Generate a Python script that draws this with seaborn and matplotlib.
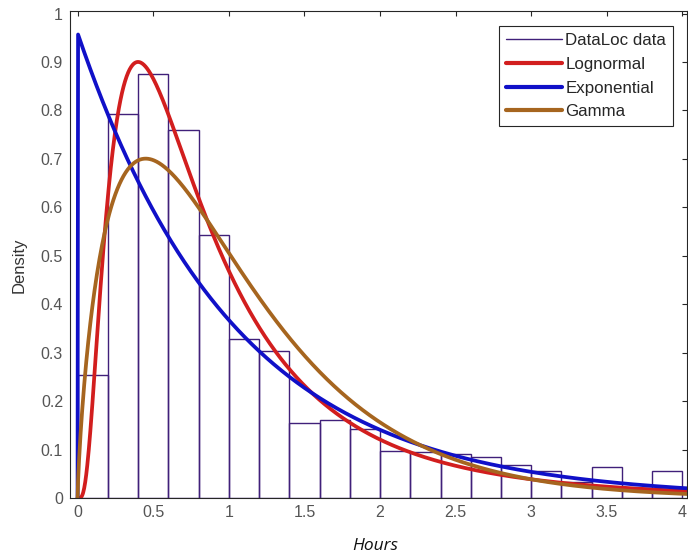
import numpy as np
import pandas as pd
import matplotlib
matplotlib.use("Agg")
import matplotlib.pyplot as plt
import seaborn as sns
from math import gamma as gamma_fn
from matplotlib.lines import Line2D

# histogram (density), bins of 0.2 h
bin_edges = [0.0, 0.2, 0.4, 0.6, 0.8, 1.0, 1.2, 1.4, 1.6, 1.8, 2.0,
             2.2, 2.4, 2.6, 2.8, 3.0, 3.2, 3.4, 3.6, 3.8, 4.0]
bin_heights = [0.253, 0.793, 0.875, 0.760, 0.542, 0.328, 0.304, 0.154, 0.160, 0.142,
               0.098, 0.095, 0.090, 0.085, 0.068, 0.056, 0.032, 0.063, 0.020, 0.056]

# fitted parameters (peak heights / positions)
logn_mu, logn_sigma = -0.272, 0.803
expo_rate = 0.96
gam_k, gam_theta = 1.77, 0.585

colors = {"data": "#40207a", "Lognormal": "#d21e1e",
          "Exponential": "#1010c8", "Gamma": "#a6651f"}

xs = np.linspace(0, 4.05, 1200)
xp = np.where(xs > 0, xs, 1e-9)
curves = pd.DataFrame({
    "x": xs,
    "Lognormal": np.where(xs > 0, np.exp(-(np.log(xp) - logn_mu) ** 2 / (2 * logn_sigma ** 2))
                          / (xp * logn_sigma * np.sqrt(2 * np.pi)), 0),
    "Exponential": np.where(xs > 0, expo_rate * np.exp(-expo_rate * xs), 0),
    "Gamma": xp ** (gam_k - 1) * np.exp(-xp / gam_theta) / (gamma_fn(gam_k) * gam_theta ** gam_k),
})

hist_df = pd.DataFrame({
    "center": [(a + b) / 2 for a, b in zip(bin_edges[:-1], bin_edges[1:])],
    "height": bin_heights,
})

sns.set_theme(style="white")
plt.rcParams["font.family"] = ["Liberation Sans", "DejaVu Sans"]

fig = plt.figure(figsize=(6.88, 5.6), dpi=100)
ax = fig.add_axes([70 / 688, 1 - 498 / 560, 617 / 688, 487.3 / 560])

sns.histplot(data=hist_df, x="center", weights="height", bins=bin_edges, fill=False,
             color=colors["data"], linewidth=1.0, ax=ax)

for name in ["Lognormal", "Exponential", "Gamma"]:
    sns.lineplot(data=curves, x="x", y=name, color=colors[name], linewidth=2.7,
                 ax=ax, sort=False)

ax.set_xlim(-0.05, 4.03)
ax.set_ylim(0, 1.006)
ax.set_xticks(np.arange(0, 4.01, 0.5))
ax.set_xticklabels(["0", "0.5", "1", "1.5", "2", "2.5", "3", "3.5", "4"])
ax.set_yticks(np.arange(0, 1.01, 0.1))
ax.set_yticklabels(["0"] + [f"{v:.1f}" for v in np.arange(0.1, 0.95, 0.1)] + ["1"])
ax.tick_params(direction="in", length=3.5, width=0.8, top=True, right=True,
               labelsize=11.5, colors="#262626", labelcolor="#555555", pad=5)
for sp in ax.spines.values():
    sp.set_color("#262626")
    sp.set_linewidth(0.8)

ax.set_xlabel("")
ax.set_ylabel("Density", fontsize=12, color="#333333")
ax.yaxis.set_label_coords(-0.07, 0.478)

fig.text(375 / 688, 1 - 546 / 560, "Hours", fontsize=12.5, style="italic",
         family="Open Sans", ha="center", va="center", color="#111111")

handles = [Line2D([], [], color=colors["data"], linewidth=1.0)] + \
          [Line2D([], [], color=colors[n], linewidth=3.0) for n in ["Lognormal", "Exponential", "Gamma"]]
leg = ax.legend(handles, ["DataLoc data", "Lognormal", "Exponential", "Gamma"],
                loc="upper right", bbox_to_anchor=(603 / 617, 1 - 15.5 / 487.3),
                fontsize=12.2, handlelength=3.3, handletextpad=0.22, labelspacing=0.52,
                borderpad=0.4, borderaxespad=0, fancybox=False, framealpha=1)
leg.get_frame().set_edgecolor("#262626")
leg.get_frame().set_linewidth(0.8)
for t in leg.get_texts():
    t.set_color("#262626")

fig.savefig("out.png", dpi=100)
